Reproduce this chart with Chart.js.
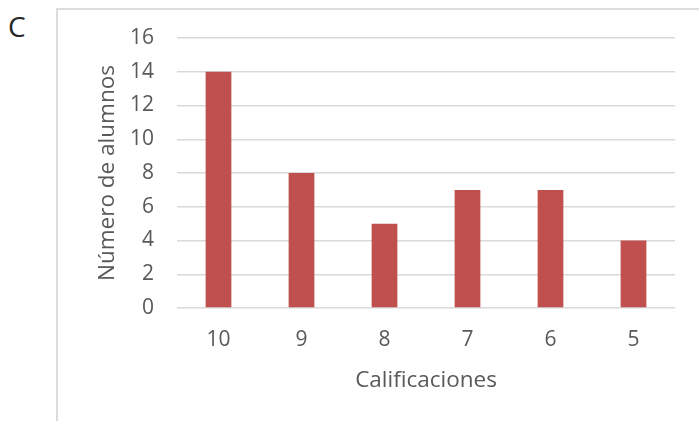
<!DOCTYPE html>
<html>
<head>
<meta charset="utf-8">
<script src="https://cdn.jsdelivr.net/npm/chart.js@4"></script>
<style>
  html, body { margin: 0; padding: 0; background: #fff; }
  #wrap { position: relative; width: 699px; height: 421px; overflow: hidden; }
  #frame { position: absolute; left: 56px; top: 8px; width: 700px; height: 500px;
           border-left: 2px solid #dcdcdc; border-top: 2px solid #dcdcdc; box-sizing: border-box; }
  #letter { position: absolute; left: 8px; top: 8px; font-family: "Open Sans", sans-serif;
            font-size: 28px; color: #262626; line-height: 36px; }
  canvas { position: absolute; left: 0; top: 0; }
</style>
</head>
<body>
<div id="wrap">
  <div id="frame"></div>
  <div id="letter">C</div>
  <canvas id="c" width="699" height="421"></canvas>
</div>
<script>
const categories = ['10', '9', '8', '7', '6', '5'];
const alumnos = [14, 8, 5, 7, 7, 4];
const yTicks = [0, 2, 4, 6, 8, 10, 12, 14, 16];
const xTitle = 'Calificaciones';
const yTitle = 'Número de alumnos';

const fontFamily = '"Open Sans", sans-serif';
const textColor = '#595959';

new Chart(document.getElementById('c'), {
  type: 'bar',
  data: {
    labels: categories,
    datasets: [{
      data: alumnos,
      backgroundColor: '#C0504D',
      borderColor: '#C0504D',
      borderWidth: 0,
      barPercentage: 0.31,
      categoryPercentage: 1.0
    }]
  },
  options: {
    responsive: false,
    animation: false,
    devicePixelRatio: 1,
    layout: { padding: { left: 0, top: 38, right: 24, bottom: 0 } },
    plugins: { legend: { display: false }, tooltip: { enabled: false } },
    scales: {
      x: {
        grid: { display: false, drawTicks: false },
        border: { display: false },
        ticks: { color: textColor, font: { family: fontFamily, size: 21 }, padding: 19 },
        title: { display: true, text: xTitle, color: textColor,
                 font: { family: fontFamily, size: 22.5 }, padding: { top: 0, bottom: 27 } },
        afterFit: (s) => { s.height = 113; }
      },
      y: {
        min: 0, max: 16,
        afterBuildTicks: (s) => { s.ticks = yTicks.map(v => ({ value: v })); },
        grid: { color: '#d9d9d9', lineWidth: 1.5, drawTicks: false },
        border: { display: false },
        ticks: { color: textColor, font: { family: fontFamily, size: 21 }, padding: 23 },
        title: { display: true, text: yTitle, color: textColor,
                 font: { family: fontFamily, size: 22.5 }, padding: { top: 94, bottom: 0 } },
        afterFit: (s) => { s.width = 177; }
      }
    }
  }
});
</script>
</body>
</html>
